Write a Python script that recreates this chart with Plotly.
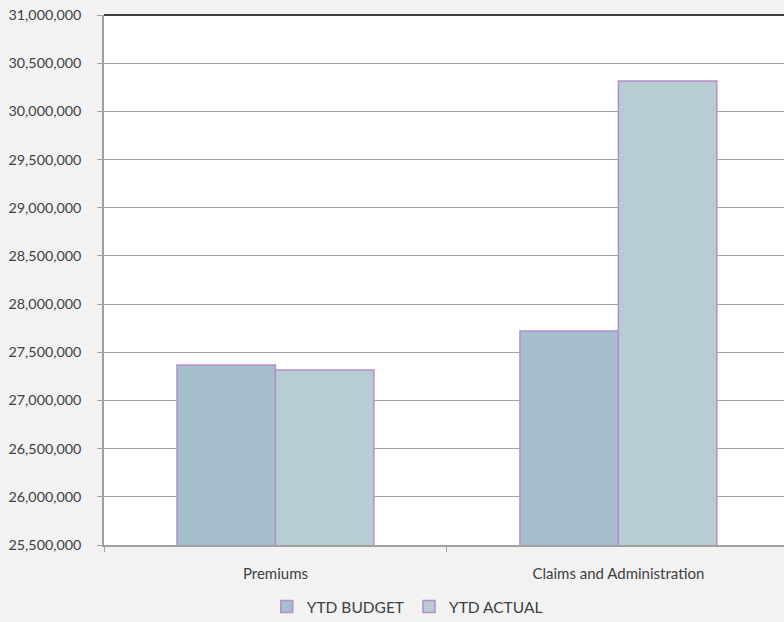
import plotly.graph_objects as go

categories = ["Premiums", "Claims and Administration"]
ytd_budget = [27368000, 27722000]
ytd_actual = [27316000, 30315000]
y_ticks = list(range(25500000, 31000001, 500000))

fig = go.Figure()
fig.add_trace(go.Bar(name="YTD BUDGET", x=categories, y=ytd_budget,
                     marker=dict(color="#a5bfcc", line=dict(color="#b48fd0", width=1.5))))
fig.add_trace(go.Bar(name="YTD ACTUAL", x=categories, y=ytd_actual,
                     marker=dict(color="#b7cdd3", line=dict(color="#b48fd0", width=1.5))))

fig.update_layout(
    width=784, height=622,
    margin=dict(l=104, r=0, t=15, b=77, autoexpand=False),
    paper_bgcolor="#f2f2f2", plot_bgcolor="#ffffff",
    barmode="group", bargap=0.426, bargroupgap=0.0,
    font=dict(family="Lato, Open Sans, sans-serif", size=15, color="#404040"),
    legend=dict(orientation="h", x=0.446, xanchor="center", y=-0.117, yanchor="middle",
                font=dict(size=15.5, color="#404040"), itemwidth=30, tracegroupgap=0),
    xaxis=dict(range=[-0.5, 1.483], showgrid=False, showline=True, linecolor="#a0a0a0",
               linewidth=1.5, ticks="outside", tickson="boundaries", ticklen=5,
               tickcolor="#a0a0a0", tickfont=dict(size=15), ticklabelstandoff=14,
               automargin=False),
    yaxis=dict(range=[25500000, 31000000], tickvals=y_ticks,
               ticktext=[f"{v:,}" for v in y_ticks], showgrid=True, gridcolor="#a0a0a0",
               gridwidth=1, showline=True, linecolor="#a0a0a0", linewidth=1.5,
               ticks="outside", ticklen=5, tickcolor="#a0a0a0", zeroline=False,
               tickfont=dict(size=14.3), ticklabelstandoff=13, automargin=False),
    showlegend=True,
)
fig.add_shape(type="line", xref="paper", yref="paper", x0=0, x1=1, y0=1, y1=1,
              line=dict(color="#000000", width=1.5))
fig.write_html("out.html")
